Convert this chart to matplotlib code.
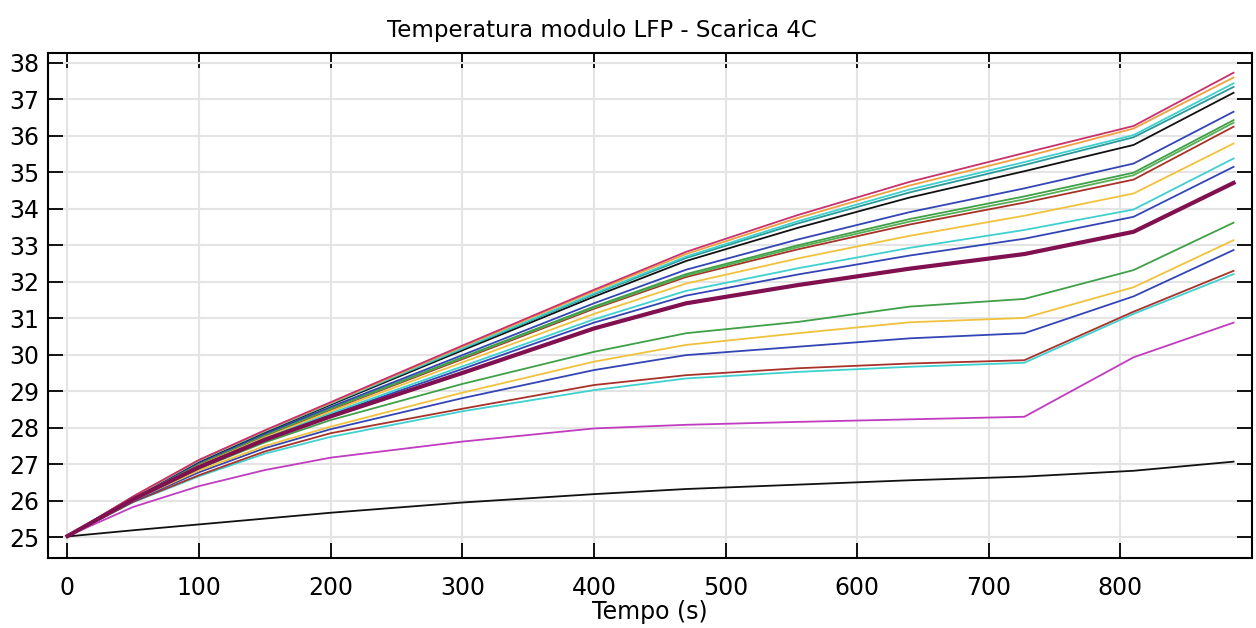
import matplotlib.pyplot as plt

plt.rcParams.update({
    "font.family": "DejaVu Sans",
    "font.size": 16,
})

# time samples (s)
tempo = [0, 50, 100, 150, 200, 300, 400, 470, 555, 640, 727, 810, 886]

# upper group of probes
t_pink = [25.03, 26.12, 27.12, 27.93, 28.70, 30.25, 31.78, 32.82, 33.83, 34.74, 35.53, 36.27, 37.73]
t_orange = [25.03, 26.11, 27.11, 27.92, 28.68, 30.22, 31.74, 32.76, 33.75, 34.64, 35.42, 36.20, 37.60]
t_cyan1 = [25.03, 26.11, 27.10, 27.91, 28.67, 30.18, 31.68, 32.69, 33.66, 34.53, 35.28, 36.02, 37.44]
t_teal = [25.03, 26.10, 27.10, 27.90, 28.66, 30.16, 31.65, 32.65, 33.60, 34.45, 35.20, 35.96, 37.34]
t_black1 = [25.03, 26.10, 27.08, 27.88, 28.63, 30.12, 31.59, 32.57, 33.48, 34.31, 35.03, 35.75, 37.18]
t_blue1 = [25.03, 26.09, 27.05, 27.84, 28.57, 29.99, 31.41, 32.33, 33.16, 33.91, 34.56, 35.24, 36.66]
t_green1 = [25.03, 26.08, 27.03, 27.81, 28.53, 29.93, 31.32, 32.21, 33.00, 33.72, 34.34, 34.99, 36.43]
t_green2 = [25.03, 26.08, 27.03, 27.80, 28.52, 29.91, 31.29, 32.17, 32.95, 33.65, 34.26, 34.92, 36.36]
t_red1 = [25.03, 26.08, 27.02, 27.79, 28.50, 29.88, 31.26, 32.13, 32.89, 33.57, 34.17, 34.80, 36.25]
t_yellow1 = [25.03, 26.07, 27.00, 27.76, 28.45, 29.79, 31.12, 31.95, 32.64, 33.26, 33.81, 34.42, 35.79]
t_cyan2 = [25.03, 26.06, 26.97, 27.72, 28.40, 29.68, 30.97, 31.75, 32.37, 32.93, 33.42, 33.98, 35.38]
t_blue2 = [25.03, 26.05, 26.95, 27.70, 28.36, 29.61, 30.88, 31.62, 32.20, 32.72, 33.18, 33.78, 35.15]
t_thick = [25.03, 26.04, 26.92, 27.67, 28.31, 29.50, 30.72, 31.41, 31.91, 32.36, 32.76, 33.37, 34.71]

# lower group
t_green3 = [25.03, 26.03, 26.88, 27.60, 28.21, 29.20, 30.08, 30.59, 30.90, 31.32, 31.53, 32.32, 33.62]
t_yellow2 = [25.03, 26.01, 26.83, 27.50, 28.03, 28.96, 29.81, 30.27, 30.59, 30.89, 31.01, 31.85, 33.14]
t_blue3 = [25.03, 25.99, 26.78, 27.44, 27.96, 28.81, 29.58, 29.99, 30.22, 30.45, 30.59, 31.60, 32.87]
t_red2 = [25.03, 25.97, 26.70, 27.35, 27.85, 28.52, 29.17, 29.44, 29.63, 29.76, 29.85, 31.18, 32.30]
t_cyan3 = [25.03, 25.96, 26.67, 27.29, 27.75, 28.45, 29.03, 29.35, 29.53, 29.67, 29.78, 31.12, 32.21]
t_magenta = [25.03, 25.83, 26.40, 26.84, 27.18, 27.62, 27.98, 28.08, 28.16, 28.23, 28.30, 29.93, 30.88]
t_black2 = [25.02, 25.19, 25.35, 25.51, 25.67, 25.95, 26.18, 26.32, 26.44, 26.56, 26.66, 26.82, 27.07]

series = [
    (t_black2, "#111111", 1.3),
    (t_magenta, "#c03cc0", 1.3),
    (t_cyan3, "#3fd0d0", 1.3),
    (t_red2, "#a8322a", 1.3),
    (t_blue3, "#3345b5", 1.3),
    (t_yellow2, "#f0c23c", 1.3),
    (t_green3, "#3fa048", 1.3),
    (t_blue2, "#3345b5", 1.3),
    (t_cyan2, "#3fd0d0", 1.3),
    (t_yellow1, "#f0c23c", 1.3),
    (t_red1, "#a8322a", 1.3),
    (t_green2, "#55b055", 1.3),
    (t_green1, "#3fa048", 1.3),
    (t_blue1, "#3345b5", 1.3),
    (t_black1, "#111111", 1.3),
    (t_teal, "#2a9a9a", 1.3),
    (t_cyan1, "#3fd0d0", 1.3),
    (t_orange, "#f0a040", 1.3),
    (t_pink, "#c8306e", 1.3),
    (t_thick, "#80104f", 3.0),
]

fig = plt.figure(figsize=(12.56, 6.28), dpi=100)
ax = fig.add_axes([0.038, 0.1115, 0.9588, 0.8035])

for vals, col, lw in series:
    ax.plot(tempo, vals, color=col, linewidth=lw)

ax.set_xlim(-15, 900)
ax.set_ylim(24.43, 38.26)
ax.set_xticks(range(0, 801, 100))
ax.set_yticks(range(25, 39))

ax.grid(True, color="#e4e4e4", linewidth=1.5)
ax.set_axisbelow(True)
ax.tick_params(direction="in", length=11, width=1.3, top=True, right=True,
               labelsize=17, colors="black")
ax.tick_params(axis="x", pad=13)
ax.tick_params(axis="y", pad=6)
for sp in ax.spines.values():
    sp.set_linewidth(1.5)

ax.set_xlabel("Tempo (s)", fontsize=17, labelpad=0)
fig.text(0.479, 0.952, "Temperatura modulo LFP - Scarica 4C",
         ha="center", va="center", fontsize=16.5)

fig.savefig("out.png", dpi=100)
